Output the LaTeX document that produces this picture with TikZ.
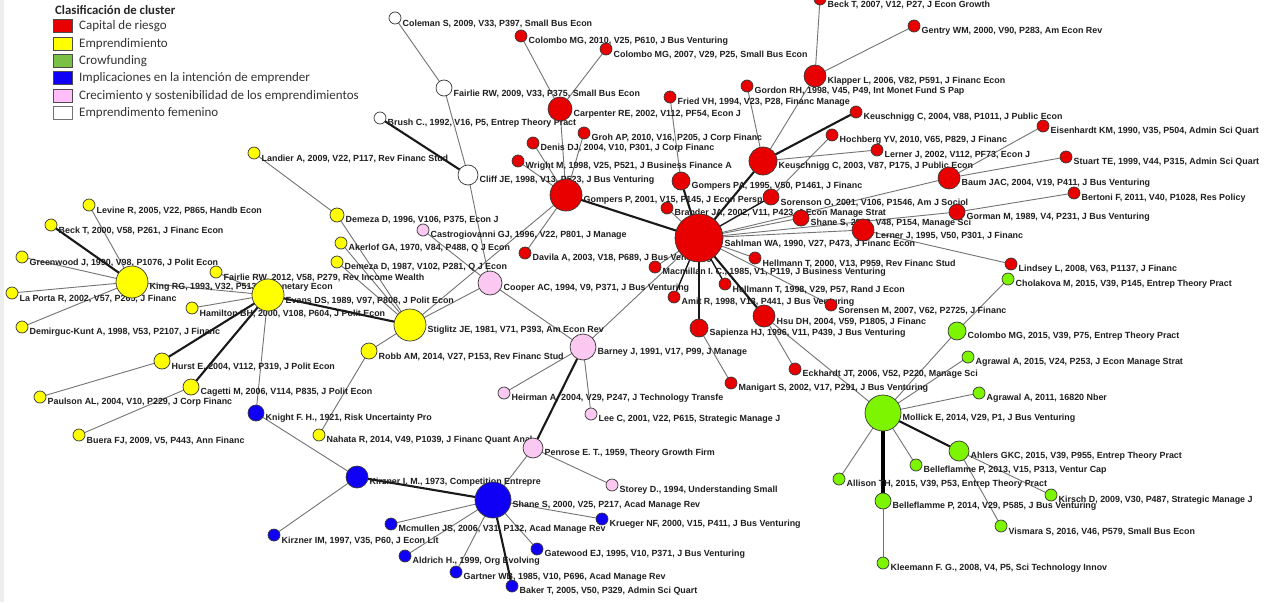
\documentclass[tikz,border=0pt]{standalone}
\usepackage{fontspec}
\setmainfont{Liberation Sans}
\newfontfamily\legfont{Carlito}
\pgfdeclarelayer{bgl}
\pgfdeclarelayer{edges}
\pgfdeclarelayer{labels}
\pgfsetlayers{bgl,edges,labels,main}
\definecolor{cred}{RGB}{232,0,0}
\definecolor{cyel}{RGB}{255,255,0}
\definecolor{cgrn}{RGB}{125,245,0}
\definecolor{cblu}{RGB}{15,0,245}
\definecolor{cpnk}{RGB}{250,200,240}
\definecolor{cwht}{RGB}{255,255,255}
\definecolor{lgrn}{RGB}{122,192,66}
\definecolor{lpnk}{RGB}{255,190,250}
\definecolor{ndline}{RGB}{55,55,55}
\definecolor{edgegray}{RGB}{115,115,115}
\definecolor{edgedark}{RGB}{25,25,25}
\definecolor{strip}{RGB}{238,238,238}
\tikzset{
  nd/.style={circle,draw=ndline,line width=0.7pt,inner sep=0pt,outer sep=0pt},
  lbl/.style={anchor=west,inner sep=0pt,font=\bfseries\fontsize{8.9}{9}\selectfont,text=black!88},
  ln/.style={draw=edgegray,line width=0.9pt},
  med/.style={draw=edgedark,line width=1.4pt},
  thk/.style={draw=edgedark,line width=2.1pt},
  legbox/.style={draw=black!70,line width=0.9pt,minimum width=19pt,minimum height=13pt,inner sep=0pt},
  legtxt/.style={anchor=west,inner sep=0pt,font=\legfont\fontsize{13}{14}\selectfont,text=black!80},
}
\newcommand\mynode[6]{%
  \node[nd,fill=#5,minimum size={2*#4pt}] (#1) at (#2,#3) {};
  \begin{pgfonlayer}{labels}\node[lbl] at (#2+#4+1.5,#3+5.5) {#6};\end{pgfonlayer}}
\begin{document}
\begin{tikzpicture}[x=1pt,y=-1pt]
\useasboundingbox (0,0) rectangle (1268,602);
\begin{pgfonlayer}{bgl}
\fill[white] (0,0) rectangle (1268,602);
\fill[strip] (0,0) rectangle (4,602);
\end{pgfonlayer}
% legend
\node[anchor=west,inner sep=0pt,font=\legfont\bfseries\fontsize{12.8}{14}\selectfont,text=black!85] (legtitle) at (55,10) {Clasificación de cluster};
\node[legbox,fill=cred] (lg1) at (62.5,26) {};
\node[legbox,fill=cyel] (lg2) at (62.5,44) {};
\node[legbox,fill=lgrn] (lg3) at (62.5,61) {};
\node[legbox,fill=cblu] (lg4) at (62.5,78.3) {};
\node[legbox,fill=lpnk] (lg5) at (62.5,96) {};
\node[legbox,fill=white,draw=black!55] (lg6) at (62.5,112.7) {};
\node[legtxt] (lt1) at (79,26) {Capital de riesgo};
\node[legtxt] (lt2) at (79,44) {Emprendimiento};
\node[legtxt] (lt3) at (79,61) {Crowfunding};
\node[legtxt] (lt4) at (79,78.3) {Implicaciones en la intención de emprender};
\node[legtxt] (lt5) at (79,96) {Crecimiento y sostenibilidad de los emprendimientos};
\node[legtxt] (lt6) at (79,112.7) {Emprendimento femenino};
% red cluster
\mynode{sahl}{699}{238}{24}{cred}{Sahlman WA, 1990, V27, P473, J Financ Econ}
\mynode{gomp01}{566}{195}{16}{cred}{Gompers P, 2001, V15, P145, J Econ Persp}
\mynode{carp}{560}{109}{12}{cred}{Carpenter RE, 2002, V112, PF54, Econ J}
\mynode{col10}{521}{36}{6}{cred}{Colombo MG, 2010, V25, P610, J Bus Venturing}
\mynode{col07}{606}{49}{6}{cred}{Colombo MG, 2007, V29, P25, Small Bus Econ}
\mynode{groh}{584}{133}{6}{cred}{Groh AP, 2010, V16, P205, J Corp Financ}
\mynode{denis}{533}{143}{6}{cred}{Denis DJ, 2004, V10, P301, J Corp Financ}
\mynode{wright}{518}{161}{6}{cred}{Wright M, 1998, V25, P521, J Business Finance A}
\mynode{fried}{670}{97}{6}{cred}{Fried VH, 1994, V23, P28, Financ Manage}
\mynode{gomp95}{681}{181}{9}{cred}{Gompers PA, 1995, V50, P1461, J Financ}
\mynode{gordon}{747}{86}{6}{cred}{Gordon RH, 1998, V45, P49, Int Monet Fund S Pap}
\mynode{keu03}{763}{161}{14}{cred}{Keuschnigg C, 2003, V87, P175, J Public Econ}
\mynode{klap}{815}{76}{11}{cred}{Klapper L, 2006, V82, P591, J Financ Econ}
\mynode{beck07}{820}{-1}{6}{cred}{Beck T, 2007, V12, P27, J Econ Growth}
\mynode{gentry}{914}{26}{6}{cred}{Gentry WM, 2000, V90, P283, Am Econ Rev}
\mynode{keu04}{856}{112}{6}{cred}{Keuschnigg C, 2004, V88, P1011, J Public Econ}
\mynode{hoch}{832}{135}{6}{cred}{Hochberg YV, 2010, V65, P829, J Financ}
\mynode{lern02}{877}{150}{6}{cred}{Lerner J, 2002, V112, PF73, Econ J}
\mynode{eisen}{1043}{126}{6}{cred}{Eisenhardt KM, 1990, V35, P504, Admin Sci Quart}
\mynode{stuart}{1066}{157}{6}{cred}{Stuart TE, 1999, V44, P315, Admin Sci Quart}
\mynode{baum}{949}{178}{11}{cred}{Baum JAC, 2004, V19, P411, J Bus Venturing}
\mynode{gorman}{957}{212}{8}{cred}{Gorman M, 1989, V4, P231, J Bus Venturing}
\mynode{bertoni}{1074}{193}{6}{cred}{Bertoni F, 2011, V40, P1028, Res Policy}
\mynode{lern95}{863}{230}{11}{cred}{Lerner J, 1995, V50, P301, J Financ}
\mynode{lindsey}{1011}{264}{6}{cred}{Lindsey L, 2008, V63, P1137, J Financ}
\mynode{shane02}{801}{218}{8}{cred}{Shane S, 2002, V48, P154, Manage Sci}
\mynode{sorenson}{771}{197}{8}{cred}{Sorenson O, 2001, V106, P1546, Am J Sociol}
\mynode{brander}{667}{208}{6}{cred}{Brander JA, 2002, V11, P423, J Econ Manage Strat}
\mynode{hell00}{755}{258}{6}{cred}{Hellmann T, 2000, V13, P959, Rev Financ Stud}
\mynode{macm}{655}{267}{6}{cred}{Macmillan I. C., 1985, V1, P119, J Business Venturing}
\mynode{hell98}{725}{284}{6}{cred}{Hellmann T, 1998, V29, P57, Rand J Econ}
\mynode{amit}{674}{297}{6}{cred}{Amit R, 1998, V13, P441, J Bus Venturing}
\mynode{sorensen}{831}{305}{6}{cred}{Sorensen M, 2007, V62, P2725, J Financ}
\mynode{hsu}{764}{316}{11}{cred}{Hsu DH, 2004, V59, P1805, J Financ}
\mynode{sapienza}{699}{328}{9}{cred}{Sapienza HJ, 1996, V11, P439, J Bus Venturing}
\mynode{eckhardt}{795}{369}{6}{cred}{Eckhardt JT, 2006, V52, P220, Manage Sci}
\mynode{manigart}{731}{383}{6}{cred}{Manigart S, 2002, V17, P291, J Bus Venturing}
\mynode{davila}{525}{253}{6}{cred}{Davila A, 2003, V18, P689, J Bus Venturing}
% white cluster
\mynode{coleman}{395}{18}{6}{cwht}{Coleman S, 2009, V33, P397, Small Bus Econ}
\mynode{fairlie09}{444}{88}{8}{cwht}{Fairlie RW, 2009, V33, P375, Small Bus Econ}
\mynode{brush}{380}{118}{6}{cwht}{Brush C., 1992, V16, P5, Entrep Theory Pract}
\mynode{cliff}{468}{175}{10}{cwht}{Cliff JE, 1998, V13, P523, J Bus Venturing}
% yellow cluster
\mynode{landier}{254}{153}{6}{cyel}{Landier A, 2009, V22, P117, Rev Financ Stud}
\mynode{demeza96}{337}{215}{7}{cyel}{Demeza D, 1996, V106, P375, Econ J}
\mynode{akerlof}{341}{243}{6}{cyel}{Akerlof GA, 1970, V84, P488, Q J Econ}
\mynode{demeza87}{337}{262}{6}{cyel}{Demeza D, 1987, V102, P281, Q J Econ}
\mynode{stiglitz}{410}{325}{16}{cyel}{Stiglitz JE, 1981, V71, P393, Am Econ Rev}
\mynode{robb}{369}{351}{8}{cyel}{Robb AM, 2014, V27, P153, Rev Financ Stud}
\mynode{nahata}{319}{435}{6}{cyel}{Nahata R, 2014, V49, P1039, J Financ Quant Anal}
\mynode{king}{132}{282}{16}{cyel}{King RG, 1993, V32, P513, J Monetary Econ}
\mynode{levine}{89}{205}{6}{cyel}{Levine R, 2005, V22, P865, Handb Econ}
\mynode{beck00}{51}{225}{6}{cyel}{Beck T, 2000, V58, P261, J Financ Econ}
\mynode{greenwood}{22}{257}{6}{cyel}{Greenwood J, 1990, V98, P1076, J Polit Econ}
\mynode{laporta}{12}{293}{6}{cyel}{La Porta R, 2002, V57, P265, J Financ}
\mynode{demirguc}{22}{327}{6}{cyel}{Demirguc-Kunt A, 1998, V53, P2107, J Financ}
\mynode{evans}{268}{295}{16}{cyel}{Evans DS, 1989, V97, P808, J Polit Econ}
\mynode{fairlie12}{216}{272}{6}{cyel}{Fairlie RW, 2012, V58, P279, Rev Income Wealth}
\mynode{hamilton}{192}{308}{6}{cyel}{Hamilton BH, 2000, V108, P604, J Polit Econ}
\mynode{hurst}{162}{361}{8}{cyel}{Hurst E, 2004, V112, P319, J Polit Econ}
\mynode{paulson}{40}{397}{6}{cyel}{Paulson AL, 2004, V10, P229, J Corp Financ}
\mynode{cagetti}{191}{387}{8}{cyel}{Cagetti M, 2006, V114, P835, J Polit Econ}
\mynode{buera}{79}{435}{6}{cyel}{Buera FJ, 2009, V5, P443, Ann Financ}
% pink cluster
\mynode{castro}{423}{230}{6}{cpnk}{Castrogiovanni GJ, 1996, V22, P801, J Manage}
\mynode{cooper}{490}{283}{12}{cpnk}{Cooper AC, 1994, V9, P371, J Bus Venturing}
\mynode{barney}{583}{347}{13}{cpnk}{Barney J, 1991, V17, P99, J Manage}
\mynode{heirman}{504}{393}{6}{cpnk}{Heirman A, 2004, V29, P247, J Technology Transfe}
\mynode{lee}{591}{414}{6}{cpnk}{Lee C, 2001, V22, P615, Strategic Manage J}
\mynode{penrose}{533}{448}{10}{cpnk}{Penrose E. T., 1959, Theory Growth Firm}
\mynode{storey}{612}{485}{6}{cpnk}{Storey D., 1994, Understanding Small}
% blue cluster
\mynode{knight}{256}{413}{8}{cblu}{Knight F. H., 1921, Risk Uncertainty Pro}
\mynode{kirz73}{357}{477}{11}{cblu}{Kirzner I. M., 1973, Competition Entrepre}
\mynode{shane00}{493}{500}{18}{cblu}{Shane S, 2000, V25, P217, Acad Manage Rev}
\mynode{kirz97}{274}{535}{6}{cblu}{Kirzner IM, 1997, V35, P60, J Econ Lit}
\mynode{mcmullen}{391}{524}{6}{cblu}{Mcmullen JS, 2006, V31, P132, Acad Manage Rev}
\mynode{krueger}{602}{519}{6}{cblu}{Krueger NF, 2000, V15, P411, J Bus Venturing}
\mynode{gatewood}{537}{549}{6}{cblu}{Gatewood EJ, 1995, V10, P371, J Bus Venturing}
\mynode{aldrich}{405}{556}{6}{cblu}{Aldrich H., 1999, Org Evolving}
\mynode{gartner}{456}{572}{6}{cblu}{Gartner WB, 1985, V10, P696, Acad Manage Rev}
\mynode{baker}{512}{586}{6}{cblu}{Baker T, 2005, V50, P329, Admin Sci Quart}
% green cluster
\mynode{mollick}{883}{413}{18}{cgrn}{Mollick E, 2014, V29, P1, J Bus Venturing}
\mynode{cholakova}{1008}{279}{6}{cgrn}{Cholakova M, 2015, V39, P145, Entrep Theory Pract}
\mynode{col15}{957}{331}{9}{cgrn}{Colombo MG, 2015, V39, P75, Entrep Theory Pract}
\mynode{agr15}{968}{357}{6}{cgrn}{Agrawal A, 2015, V24, P253, J Econ Manage Strat}
\mynode{agr11}{979}{393}{6}{cgrn}{Agrawal A, 2011, 16820 Nber}
\mynode{ahlers}{959}{451}{10}{cgrn}{Ahlers GKC, 2015, V39, P955, Entrep Theory Pract}
\mynode{bell13}{916}{465}{6}{cgrn}{Belleflamme P, 2013, V15, P313, Ventur Cap}
\mynode{allison}{839}{479}{6}{cgrn}{Allison TH, 2015, V39, P53, Entrep Theory Pract}
\mynode{bell14}{883}{501}{8}{cgrn}{Belleflamme P, 2014, V29, P585, J Bus Venturing}
\mynode{kleemann}{883}{563}{6}{cgrn}{Kleemann F. G., 2008, V4, P5, Sci Technology Innov}
\mynode{kirsch}{1051}{495}{6}{cgrn}{Kirsch D, 2009, V30, P487, Strategic Manage J}
\mynode{vismara}{1001}{526}{6}{cgrn}{Vismara S, 2016, V46, P579, Small Bus Econ}
% edges
\begin{pgfonlayer}{edges}
\draw[ln] (col10) -- (carp);
\draw[ln] (col07) -- (carp);
\draw[ln] (carp) -- (gomp01);
\draw[ln] (groh) -- (gomp01);
\draw[ln] (denis) -- (gomp01);
\draw[ln] (wright) -- (gomp01);
\draw[ln] (davila) -- (gomp01);
\draw[ln] (gomp01) -- (stiglitz);
\draw[ln] (fried) -- (gomp95);
\draw[ln] (gordon) -- (keu03);
\draw[ln] (klap) -- (keu03);
\draw[ln] (beck07) -- (klap);
\draw[ln] (gentry) -- (klap);
\draw[ln] (lern02) -- (keu03);
\draw[ln] (hoch) -- (sorenson);
\draw[ln] (eisen) -- (baum);
\draw[ln] (stuart) -- (baum);
\draw[ln] (baum) -- (sahl);
\draw[ln] (gorman) -- (sahl);
\draw[ln] (gorman) -- (bertoni);
\draw[ln] (lern95) -- (sahl);
\draw[ln] (lern95) -- (lindsey);
\draw[ln] (shane02) -- (sahl);
\draw[ln] (brander) -- (sahl);
\draw[ln] (hell00) -- (sahl);
\draw[ln] (macm) -- (sahl);
\draw[med] (hell98) -- (sahl);
\draw[ln] (sorensen) -- (sahl);
\draw[ln] (hsu) -- (eckhardt);
\draw[ln] (hsu) -- (mollick);
\draw[ln] (sapienza) -- (manigart);
\draw[ln] (barney) -- (sahl);
\draw[thk] (gomp01) -- (sahl);
\draw[thk] (keu03) -- (sahl);
\draw[thk] (keu03) -- (keu04);
\draw[thk] (gomp95) -- (sahl);
\draw[med] (sorenson) -- (sahl);
\draw[med] (amit) -- (sahl);
\draw[thk] (sapienza) -- (sahl);
\draw[thk] (hsu) -- (sahl);
\draw[ln] (coleman) -- (fairlie09);
\draw[ln] (fairlie09) -- (cliff);
\draw[thk] (brush) -- (cliff);
\draw[ln] (cliff) -- (cooper);
\draw[ln] (landier) -- (demeza96);
\draw[ln] (demeza96) -- (stiglitz);
\draw[ln] (akerlof) -- (stiglitz);
\draw[ln] (demeza87) -- (stiglitz);
\draw[ln] (castro) -- (cooper);
\draw[ln] (cooper) -- (stiglitz);
\draw[ln] (cooper) -- (barney);
\draw[ln] (robb) -- (stiglitz);
\draw[ln] (robb) -- (nahata);
\draw[thk] (evans) -- (stiglitz);
\draw[ln] (king) -- (evans);
\draw[ln] (levine) -- (king);
\draw[thk] (beck00) -- (king);
\draw[ln] (greenwood) -- (king);
\draw[ln] (laporta) -- (king);
\draw[ln] (demirguc) -- (king);
\draw[ln] (fairlie12) -- (evans);
\draw[ln] (hamilton) -- (evans);
\draw[thk] (hurst) -- (evans);
\draw[thk] (cagetti) -- (evans);
\draw[ln] (evans) -- (knight);
\draw[ln] (hurst) -- (paulson);
\draw[ln] (cagetti) -- (buera);
\draw[ln] (barney) -- (heirman);
\draw[ln] (barney) -- (lee);
\draw[thk] (barney) -- (penrose);
\draw[ln] (penrose) -- (storey);
\draw[ln] (penrose) -- (shane00);
\draw[ln] (knight) -- (kirz73);
\draw[thk] (kirz73) -- (shane00);
\draw[ln] (kirz97) -- (kirz73);
\draw[ln] (mcmullen) -- (shane00);
\draw[ln] (krueger) -- (shane00);
\draw[ln] (gatewood) -- (shane00);
\draw[ln] (aldrich) -- (shane00);
\draw[ln] (gartner) -- (shane00);
\draw[thk] (baker) -- (shane00);
\draw[ln] (mollick) -- (col15);
\draw[ln] (cholakova) -- (col15);
\draw[ln] (mollick) -- (agr15);
\draw[ln] (mollick) -- (agr11);
\draw[thk] (mollick) -- (ahlers);
\draw[ln] (mollick) -- (bell13);
\draw[ln] (mollick) -- (allison);
\draw[draw=black,line width=3.2pt] (mollick) -- (bell14);
\draw[ln] (bell14) -- (kleemann);
\draw[ln] (ahlers) -- (kirsch);
\draw[ln] (ahlers) -- (vismara);
\end{pgfonlayer}
\end{tikzpicture}
\end{document}
